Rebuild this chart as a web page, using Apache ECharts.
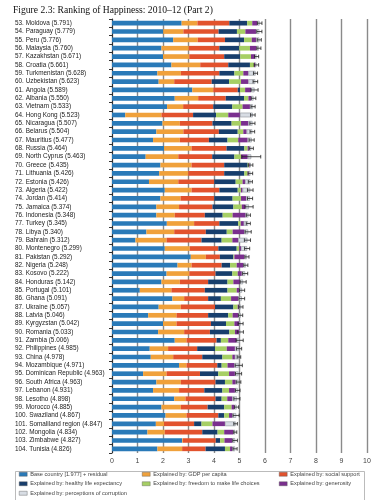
<!DOCTYPE html>
<html><head><meta charset="utf-8">
<script src="https://cdn.jsdelivr.net/npm/echarts@6/dist/echarts.min.js"></script>
<style>html,body{margin:0;padding:0;background:#fff}#c{width:380px;height:500px}</style>
</head><body><div id="c"></div>
<script>
const startRank = 53;
const names = ["Moldova","Paraguay","Peru","Malaysia","Kazakhstan","Croatia","Turkmenistan","Uzbekistan","Angola","Albania","Vietnam","Hong Kong","Nicaragua","Belarus","Mauritius","Russia","North Cyprus","Greece","Lithuania","Estonia","Algeria","Jordan","Jamaica","Indonesia","Turkey","Libya","Bahrain","Montenegro","Pakistan","Nigeria","Kosovo","Honduras","Portugal","Ghana","Ukraine","Latvia","Kyrgyzstan","Romania","Zambia","Philippines","China","Mozambique","Dominican Republic","South Africa","Lebanon","Lesotho","Morocco","Swaziland","Somaliland region","Mongolia","Zimbabwe","Tunisia"];
const scores = [5.791,5.779,5.776,5.760,5.671,5.661,5.628,5.623,5.589,5.550,5.533,5.523,5.507,5.504,5.477,5.464,5.463,5.435,5.426,5.426,5.422,5.414,5.374,5.348,5.345,5.340,5.312,5.299,5.292,5.248,5.222,5.142,5.101,5.091,5.057,5.046,5.042,5.033,5.006,4.985,4.978,4.971,4.963,4.963,4.931,4.898,4.885,4.867,4.847,4.834,4.827,4.826];
const base = [2.73,2.01,2.40,1.94,2.00,2.33,1.78,1.83,3.15,2.46,2.16,0.52,1.98,1.74,1.61,2.04,1.32,1.90,1.85,1.45,2.07,1.90,1.74,1.74,2.15,1.35,0.92,2.07,3.09,2.57,2.14,1.94,1.09,2.37,1.83,1.42,2.00,1.81,2.46,1.48,1.52,2.63,1.22,1.74,1.61,2.44,1.94,2.10,1.72,1.39,2.75,1.78];
const gdp = [0.62,0.79,0.96,1.07,1.03,1.13,0.92,0.61,0.82,0.92,0.63,1.42,0.68,1.06,1.05,1.08,1.28,1.22,1.14,1.15,1.05,0.79,0.89,0.72,1.07,1.09,1.22,0.98,0.59,0.55,0.89,0.72,1.24,0.46,0.87,1.11,0.53,1.02,0.46,0.72,0.88,0.29,0.92,0.96,1.02,0.44,0.76,0.82,0.32,0.68,0.03,0.97];
const social = [1.25,1.38,1.07,1.20,1.37,1.10,1.51,1.47,0.96,1.08,1.18,1.24,1.28,1.39,1.14,1.37,1.33,1.28,1.41,1.41,1.09,1.32,1.31,1.18,0.99,1.24,1.37,1.12,0.55,1.18,1.03,1.11,1.31,0.94,1.34,1.24,1.35,1.01,1.18,1.14,1.14,1.21,1.31,1.36,0.99,1.18,1.05,1.25,1.18,1.47,1.29,0.92];
const health = [0.70,0.72,0.75,0.78,0.63,0.85,0.59,0.68,0.09,0.72,0.75,0.90,0.75,0.74,0.73,0.70,0.87,0.92,0.79,0.84,0.72,0.72,0.82,0.70,0.74,0.82,0.79,0.72,0.53,0.33,0.66,0.76,0.89,0.50,0.72,0.79,0.59,0.76,0.17,0.70,0.79,0.17,0.72,0.37,0.71,0.24,0.65,0.23,0.29,0.60,0.17,0.76];
const freedom = [0.20,0.33,0.30,0.42,0.42,0.16,0.35,0.47,0.20,0.17,0.40,0.48,0.37,0.22,0.42,0.13,0.26,0.05,0.13,0.27,0.13,0.33,0.33,0.39,0.10,0.23,0.42,0.10,0.04,0.26,0.21,0.23,0.36,0.40,0.17,0.17,0.33,0.22,0.29,0.46,0.39,0.23,0.42,0.29,0.26,0.22,0.29,0.19,0.43,0.26,0.17,0.20];
const generosity = [0.20,0.42,0.17,0.26,0.16,0.05,0.20,0.29,0.23,0.10,0.29,0.46,0.29,0.13,0.37,0.05,0.26,0.03,0.04,0.10,0.06,0.20,0.15,0.51,0.12,0.46,0.23,0.07,0.39,0.26,0.16,0.26,0.10,0.28,0.05,0.22,0.19,0.17,0.33,0.32,0.10,0.27,0.23,0.13,0.23,0.20,0.11,0.13,0.49,0.36,0.31,0.09];
const corruption = [0.09,0.13,0.13,0.09,0.06,0.04,0.28,0.27,0.14,0.10,0.12,0.50,0.16,0.22,0.16,0.09,0.14,0.04,0.07,0.21,0.30,0.15,0.13,0.11,0.17,0.15,0.36,0.24,0.10,0.10,0.13,0.12,0.11,0.14,0.08,0.10,0.05,0.04,0.12,0.16,0.16,0.17,0.14,0.11,0.11,0.18,0.09,0.15,0.42,0.07,0.11,0.11];
const errors = [0.09,0.10,0.08,0.08,0.08,0.09,0.08,0.09,0.14,0.09,0.08,0.09,0.10,0.09,0.10,0.08,0.37,0.09,0.09,0.08,0.11,0.10,0.16,0.08,0.08,0.12,0.12,0.10,0.08,0.08,0.10,0.12,0.10,0.11,0.08,0.08,0.10,0.12,0.14,0.10,0.07,0.14,0.12,0.09,0.09,0.12,0.08,0.12,0.07,0.06,0.09,0.08];
const xTicks = [0,1,2,3,4,5,6,7,8,9,10];
const seriesNames = ["Base country [1.977] + residual","Explained by: GDP per capita","Explained by: social support","Explained by: healthy life expectancy","Explained by: freedom to make life choices","Explained by: generosity","Explained by: perceptions of corruption"];
const colors = ["#2a7ab8","#f0a13b","#e2522d","#173e6c","#a6cf64","#7a2f8e","#d8dde4"];

const categories = names.map((n,i)=> (startRank+i) + ". " + n + " (" + scores[i].toFixed(3) + ")");
const dataSets = [base,gdp,social,health,freedom,generosity,corruption];

const chart = echarts.init(document.getElementById('c'), null, {renderer:'canvas'});
const barSeries = dataSets.map((d,k)=>({
  name: seriesNames[k], type:'bar', stack:'total', data:d, barWidth:'56%',
  itemStyle:{color:colors[k], borderColor: k===6 ? '#8e939a' : undefined, borderWidth: k===6 ? 0.6 : 0},
  silent:true, animation:false
}));
const errSeries = {
  type:'custom', silent:true, animation:false, z:10,
  data: scores.map((s,i)=>[s,i,errors[i]]),
  encode:{x:0,y:1},
  renderItem:(params, api)=>{
    const x=api.value(0), yi=api.value(1), e=api.value(2);
    const p1=api.coord([x-e,yi]), p2=api.coord([x+e,yi]);
    const h=1.8;
    const st={stroke:'#222', lineWidth:0.8};
    return {type:'group', children:[
      {type:'line', shape:{x1:p1[0],y1:p1[1],x2:p2[0],y2:p2[1]}, style:st},
      {type:'line', shape:{x1:p1[0],y1:p1[1]-h,x2:p1[0],y2:p1[1]+h}, style:st},
      {type:'line', shape:{x1:p2[0],y1:p2[1]-h,x2:p2[0],y2:p2[1]+h}, style:st}
    ]};
  }
};
const legendCommon = {orient:'vertical', padding:0, height:40, itemWidth:8, itemHeight:4, itemGap:3, textStyle:{fontSize:5.6, lineHeight:6.5, color:'#444', fontFamily:'Liberation Sans', padding:[0,0,0,-2]}, selectedMode:false, icon:'rect',
  itemStyle:{borderColor:'#555', borderWidth:0.4}};
chart.setOption({
  animation:false,
  title:{text:'Figure 2.3: Ranking of Happiness: 2010–12 (Part 2)', left:13, top:5, padding:0, textStyle:{fontFamily:'Liberation Serif', fontSize:9.6, fontWeight:'normal', color:'#111'}},
  color: colors,
  grid:{left:112, right:13, top:19, bottom:47, containLabel:false},
  xAxis:{type:'value', min:xTicks[0], max:xTicks[xTicks.length-1], interval:1,
    axisLine:{show:false}, axisTick:{show:false},
    axisLabel:{fontSize:7, color:'#444', fontFamily:'Liberation Sans', margin:5},
    splitLine:{show:true, lineStyle:{color:'#8a8a8a', width:1.4}}},
  yAxis:{type:'category', data:categories, inverse:true,
    axisLine:{show:true, lineStyle:{color:'#333', width:1}},
    axisTick:{show:true, length:3, lineStyle:{color:'#333'}},
    axisLabel:{align:'left', margin:97, fontSize:6.4, color:'#222', fontFamily:'Liberation Sans', interval:0}},
  legend:[
    Object.assign({}, legendCommon, {left:19, top:471, data:[seriesNames[0],seriesNames[3],seriesNames[6]]}),
    Object.assign({}, legendCommon, {left:142, top:471, data:[seriesNames[1],seriesNames[4]]}),
    Object.assign({}, legendCommon, {left:279, top:471, data:[seriesNames[2],seriesNames[5]]})
  ],
  graphic:[{type:'rect', left:13, top:469, shape:{width:349, height:29}, style:{fill:'none', stroke:'#aaa', lineWidth:0.8}, silent:true}],
  series: barSeries.concat([errSeries])
});
</script></body></html>
